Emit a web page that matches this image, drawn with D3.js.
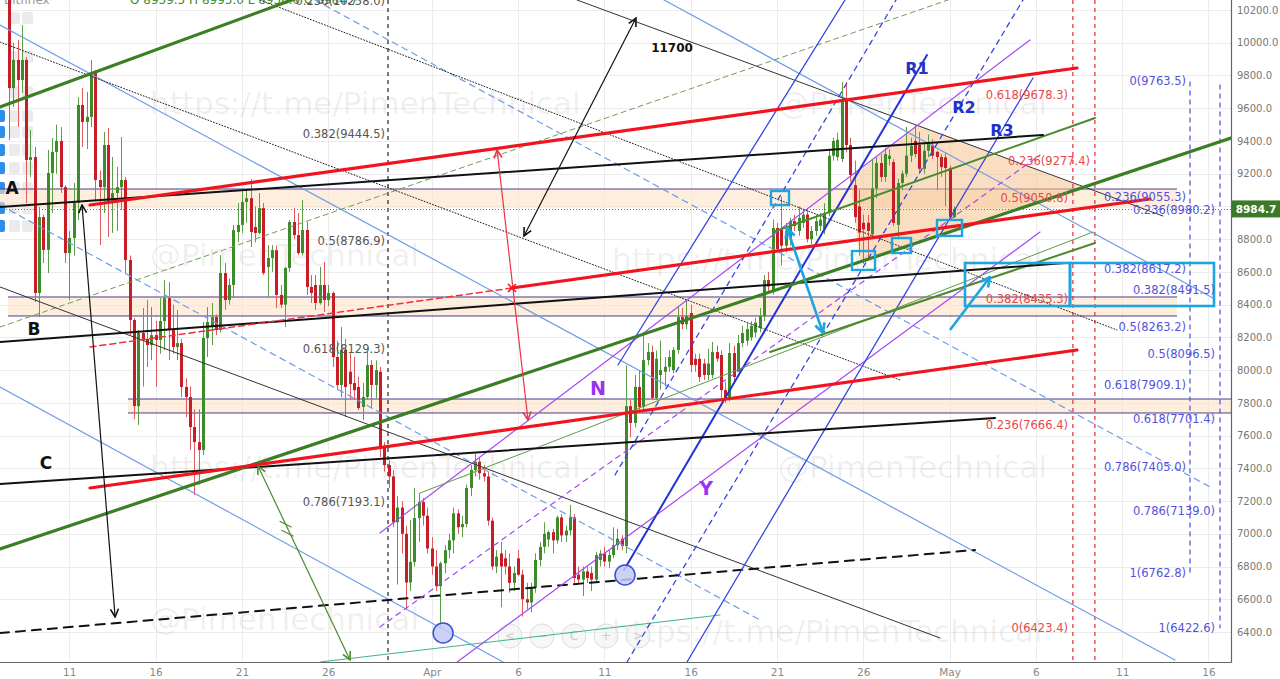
<!DOCTYPE html>
<html><head><meta charset="utf-8">
<script src="https://cdn.jsdelivr.net/npm/d3@7"></script>
<style>
body{margin:0;background:#fff;overflow:hidden}
svg{display:block}
text{font-family:"DejaVu Sans",sans-serif}
</style>
</head><body>
<svg id="c" width="1280" height="679"></svg>
<script>
// ---------------- DATA ----------------
const startTime = "2018-03-07T12:00:00Z";   // first 6h candle
const stepHours = 6;
// [open, high, low, close]
const ohlc = [
[10300,10400,9406,9723],[9723,10000,9607,9895],[9895,10017,9485,9772],[9772,10108,9693,9895],
[9895,9913,9020,9284],[9284,9467,9180,9302],[9302,9363,8416,8471],[8471,8996,8324,8935],
[8935,8950,8654,8734],[8734,9345,8593,9204],[9204,9418,8960,9333],[9333,9500,9200,9400],
[9400,9485,9082,9118],[9118,9130,8654,8715],[8715,8850,8428,8807],[8807,9143,8700,9021],
[9021,9668,8917,9620],[9620,9723,9363,9516],[9516,9700,9350,9547],[9547,9895,9485,9803],
[9815,9833,9039,9161],[9161,9220,8764,9118],[9118,9455,8960,9375],[9375,9479,8813,9027],
[9027,9302,8838,9082],[9082,9241,8850,9118],[9118,9424,8978,9161],[9161,9180,8593,8673],
[8673,8700,8214,8306],[8306,8318,7700,7780],[7780,8245,7665,8227],[8227,8379,7900,8190],
[8190,8428,8019,8153],[8153,8385,8061,8214],[8214,8300,7897,8184],[8184,8440,8100,8300],
[8300,8550,8123,8440],[8440,8538,8061,8245],[8245,8400,8100,8141],[8141,8367,8061,8165],
[8165,8190,7836,7897],[7897,7950,7713,7836],[7836,7900,7512,7652],[7652,7760,7237,7560],
[7560,7760,7300,7512],[7512,8294,7480,8196],[8196,8385,8080,8294],[8263,8410,8153,8324],
[8324,8340,8214,8245],[8245,8703,8230,8593],[8593,8654,8367,8428],[8428,8560,8400,8520],
[8520,8887,8440,8856],[8844,9021,8783,8887],[8887,9112,8838,9027],[9027,9100,8900,9050],
[9050,9167,8752,8844],[8874,9000,8780,8838],[8838,9082,8830,8990],[8990,9021,8581,8593],
[8630,8764,8447,8685],[8685,8764,8600,8733],[8733,8760,8379,8459],[8459,8520,8380,8400],
[8400,8630,8263,8624],[8624,8917,8600,8905],[8905,8990,8800,8825],[8825,8960,8703,8715],
[8715,9039,8700,8856],[8856,8905,8459,8508],[8508,8580,8410,8471],[8520,8581,8367,8410],
[8410,8630,8400,8520],[8520,8660,8355,8428],[8428,8520,8390,8471],[8471,8480,8019,8080],
[8080,8180,7878,7909],[7909,8263,7836,8123],[8123,8190,7713,7897],[7990,8104,7817,7915],
[7921,8080,7817,7878],[7897,7960,7756,7768],[7775,7921,7695,7836],[7836,8110,7820,8031],
[8031,8061,7768,7909],[7909,8060,7830,8000],[7990,8020,7469,7530],[7530,7560,7380,7420],
[7420,7450,7280,7350],[7350,7390,7040,7070],[7070,7230,6690,7160],[7160,7200,6880,7000],
[7000,7050,6534,6702],[6702,7084,6650,6828],[6828,7280,6800,7096],[7096,7250,6950,7194],
[7194,7220,7050,7110],[7110,7160,6880,6910],[6910,6980,6750,6800],[6800,6900,6650,6680],
[6680,6830,6423,6820],[6820,6930,6760,6900],[6900,7000,6850,6960],[6960,7160,6880,7125],
[7125,7150,7000,7040],[7040,7110,6980,7060],[7060,7300,7040,7280],[7280,7420,7230,7390],
[7390,7490,7350,7440],[7440,7470,7330,7370],[7370,7420,7320,7350],[7350,7380,7050,7080],
[7080,7100,6780,6800],[6800,6900,6760,6860],[6880,6950,6550,6800],[6850,6900,6750,6800],
[6800,6880,6640,6700],[6700,6800,6650,6760],[6850,6900,6740,6750],[6750,6780,6494,6600],
[6600,6700,6540,6580],[6580,6700,6520,6670],[6670,6880,6640,6840],[6840,6950,6800,6920],
[6920,7070,6880,7000],[6965,7020,6920,7010],[7010,7030,6880,6960],[6960,7110,6940,7100],
[7100,7120,6950,6990],[6990,7050,6950,7020],[7020,7176,6990,7100],[7100,7120,6700,6730],
[6750,6800,6700,6720],[6720,6800,6620,6770],[6770,6800,6700,6730],[6760,6800,6650,6720],
[6720,6890,6700,6870],[6840,6900,6800,6880],[6880,6920,6800,6830],[6830,6900,6790,6870],
[6870,7040,6850,6930],[6930,7030,6900,6970],[6970,6990,6900,6925],[6925,8030,6880,7780],
[7780,7817,7590,7677],[7677,7970,7650,7897],[7897,8000,7744,7775],[7775,8215,7750,8061],
[8061,8165,8030,8110],[8110,8150,7817,7830],[7830,8120,7817,8069],[7970,8180,7880,8000],
[7990,8080,7900,8020],[8020,8120,7990,8080],[8000,8140,7980,8123],[8123,8385,8100,8324],
[8324,8380,8250,8280],[8280,8430,8250,8330],[8349,8400,7988,8031],[8069,8100,7990,8031],
[8069,8100,7927,7958],[8040,8070,7940,7970],[7970,8130,7940,8040],[7970,8172,7950,8110],
[8110,8150,8050,8070],[8092,8120,7830,7878],[7878,7930,7800,7830],[7830,8165,7810,8104],
[8104,8150,7930,7958],[7990,8215,7990,8165],[8165,8270,8140,8226],[8180,8290,8150,8250],
[8200,8300,8180,8270],[8230,8320,8200,8290],[8257,8380,8230,8330],[8330,8580,8300,8550],
[8550,8600,8480,8510],[8477,8920,8460,8868],[8868,8899,8720,8740],[8860,9060,8640,8760],
[8760,8900,8720,8850],[8800,8930,8760,8910],[8910,8950,8850,8880],[8850,9000,8820,8930],
[8900,8980,8870,8950],[8950,8990,8780,8800],[8800,8880,8770,8850],[8850,8950,8820,8910],
[8880,8960,8850,8920],[8860,9020,8830,8960],[8960,9350,8940,9310],[9310,9420,9280,9400],
[9302,9450,9280,9407],[9290,9760,9270,9650],[9650,9760,9330,9375],[9375,9420,9150,9192],
[9130,9280,8900,8935],[9000,9100,8700,8840],[8900,8950,8650,8860],[8900,8950,8680,8850],
[8830,9290,8800,9110],[9110,9300,9050,9265],[9265,9320,9150,9180],[9180,9360,9150,9320],
[9290,9350,9250,9310],[9271,9290,8880,8899],[8887,9170,8800,9143],[9143,9220,9100,9200],
[9200,9485,9180,9310],[9310,9420,9270,9370],[9400,9497,9300,9320],[9375,9455,9200,9230],
[9230,9390,9200,9340],[9340,9440,9300,9390],[9375,9410,9290,9310],[9333,9340,9100,9302],
[9302,9320,9180,9240],[9300,9330,9000,9235],[9235,9250,8929,8935],[8935,9000,8929,8984.7]
];
const lastPrice = 8984.7;
const priceTicks = d3.range(6400, 10201, 200);
const dateTicks = ["2018-03-11","2018-03-16","2018-03-21","2018-03-26","2018-04-01","2018-04-06",
  "2018-04-11","2018-04-16","2018-04-21","2018-04-26","2018-05-01","2018-05-06","2018-05-11","2018-05-16"];

// Drawings: [kind, dayFromMar11, price, dayFromMar11, price]
const trendLines = [
 ["gDash",-4.015,8263.2,50.91,10261.1],
 ["bLight",-4.015,10108.4,64.061,6228.9],
 ["bLight",-4.015,7896.7,25.133,6216.6],
 ["bLight",34.455,10261.1,66.263,8440.5],
 ["bLightDash",-4.015,9008.7,40.017,6473.3],
 ["bLightDash",14.235,10261.1,66.205,7279.7],
 ["kDot",-4.015,10004.5,48.129,7939.5],
 ["kDot",11.049,10261.1,60.701,8245.0],
 ["kThin",-4.015,8507.7,50.446,6363.3],
 ["kThin",29.415,10261.1,63.366,8941.5],
 ["kDash",-4.015,6393.8,52.474,6900.9],
 ["teal",14.525,6216.6,37.70,6503.9],
 ["purple",17.996,7004.8,55.66,10016.7],
 ["purpleDash",17.996,6430.5,56.24,9314.1],
 ["purple",22.468,6216.6,56.24,8843.7],
 ["bDarkThin",31.79,8031.2,44.942,10261.1],
 ["bDark",32.138,6778.7,49.693,9925.1],
 ["bDarkThin",35.788,6216.6,55.834,9784.6],
 ["bDarkDash",31.616,7359.2,47.897,10261.1],
 ["bDarkDash",32.312,6216.6,55.255,10261.1],
 ["gThin",20.33,7249.2,59.311,8843.7],
 ["gMed",40.597,8110.6,59.427,8776.5],
 ["gMed",40.771,8843.7,59.427,9540.2],
 ["kMed",-4.015,8996.5,56.414,9436.3],
 ["kMed",-4.015,8171.7,57.688,8654.3],
 ["kMed",-4.015,7304.1,53.633,7707.3],
 ["gThick",-4.015,9607.4,13.366,10279.4],
 ["gThick",-4.015,6907.0,67.306,9418.0],
 ["rDash",1.199,8141.1,25.649,8501.6],
 ["rThick",1.199,9008.7,58.384,9845.7],
 ["rThick",25.649,8501.6,62.613,9045.3],
 ["rThick",1.199,7279.7,58.384,8122.8]
];
const arrows = [
 ["kArrow",0.736,9008.7,2.654,6491.6,"both"],
 ["kArrow",26.344,8819.3,32.833,10151.1,"both"],
 ["rArrow",24.786,9344.7,26.576,7695.1,"both"],
 ["gArrow",10.933,7414.1,16.263,6228.9,"both"],
 ["cArrow",41.582,8868.2,43.667,8226.6,"both"],
 ["cArrow",51.025,8245.0,53.343,8568.8,"end"]
];
// zones: [dayStart, dayEnd, priceTop, priceBottom]
const zones = [[-4.015,64.177,9106.4,8990],[-3.551,64.177,8446.6,8330.5],[3.401,67.306,7823.4,7737.9]];
const triangle = [[45.232,9173.6],[49.171,9497.4],[58.557,9124.7],[45.811,8660.4]];
// cyan boxes: [dayCenter, priceCenter, wPx, hPx]
const markBoxes = [[41.176,9051.4,18,14],[46.014,8669.6,23,19],[48.216,8761.2,19,15],[50.997,8868.2,25,16]];
const targetBoxes = [[51.894,57.978,8654.3,8391.6],[57.978,66.321,8654.3,8391.6]];
const circles = [[21.657,6393.8],[32.196,6748.2]];
const crossMark = [25.649,8501.6];
// vertical dashed lines: [kind, day, priceTop, priceBottom]
const vLines = [["k",18.465,null,null],["r",58.146,null,null],["r",59.42,null,null],["b",64.93,9763.5,6762.8],["b",66.67,9745,6422.6]];
// fib labels
const fibGray = [["0.236(10258.0)",10258.0],["0.382(9444.5)",9444.5],["0.5(8786.9)",8786.9],["0.618(8129.3)",8129.3],["0.786(7193.1)",7193.1]];
const fibRed = [["0.618(9678.3)",9678.3,57.86],["0.236(9277.4)",9277.4,59.14],["0.5(9050.8)",9050.8,57.86],["0.382(8435.3)",8435.3,57.86],["0.236(7666.4)",7666.4,57.86],["0(6423.4)",6423.4,57.86]];
const fibBlue1 = [["0(9763.5)",9763.5],["0.236(9055.3)",9055.3],["0.382(8617.2)",8617.2],["0.5(8263.2)",8263.2],["0.618(7909.1)",7909.1],["0.786(7405.0)",7405.0],["1(6762.8)",6762.8]];
const fibBlue2 = [["0.236(8980.2)",8980.2],["0.382(8491.5)",8491.5],["0.5(8096.5)",8096.5],["0.618(7701.4)",7701.4],["0.786(7139.0)",7139.0],["1(6422.6)",6422.6]];
const textLabels = [["A",-3.32,9112,"k"],["B",-2.045,8254,"k"],["C",-1.35,7432,"k"],["N",30.63,7891,"p"],["Y",36.89,7280,"p"],
 ["R1",49.11,9840,"b"],["R2",51.83,9604,"b"],["R3",54.04,9461,"b"],["11700",34.92,9968,"s"]];

// ---------------- SCALES ----------------
const W = 1231, H = 662;
const base = Date.UTC(2018,2,11);
const D = d => new Date(base + d*864e5);
const x = d3.scaleUtc().domain([D(-4.015), D(67.306)]).range([0, W]);
const y = d3.scaleLinear().domain([6216.6, 10261.1]).range([H, 0]);
const X = d => x(D(d));

const svg = d3.select("#c");
const defs = svg.append("defs");
defs.append("clipPath").attr("id","clip").append("rect").attr("width",W).attr("height",H);

const style = {
 gThick:{c:"#3b7f24",w:3.2}, gMed:{c:"#4b8a2f",w:2}, gThin:{c:"#5f9b47",w:1}, gDash:{c:"#6f9e55",w:1,d:"5,4"},
 teal:{c:"#3db38e",w:1}, rThick:{c:"#f0141e",w:3.2}, rDash:{c:"#f0303a",w:1.5,d:"6,4"},
 kMed:{c:"#111",w:2}, kThin:{c:"#333",w:1}, kDot:{c:"#222",w:1,d:"1,2"}, kDash:{c:"#111",w:2,d:"9,7"},
 bLight:{c:"#6d9ce8",w:1.2}, bLightDash:{c:"#6d9ce8",w:1.2,d:"6,5"},
 bDark:{c:"#2233d6",w:2}, bDarkThin:{c:"#3547e0",w:1.3}, bDarkDash:{c:"#3547e0",w:1.3,d:"5,5"},
 purple:{c:"#a448f5",w:1.2}, purpleDash:{c:"#a448f5",w:1.2,d:"5,5"},
 kArrow:{c:"#111",w:1.2}, rArrow:{c:"#f03040",w:1.2}, gArrow:{c:"#4b8a2f",w:1.2}, cArrow:{c:"#1ea5e0",w:2.6}
};
["kArrow","rArrow","gArrow","cArrow"].forEach(k=>{
  const s = style[k], big = k==="cArrow";
  defs.append("marker").attr("id","m_"+k).attr("viewBox","0 0 10 10").attr("refX",9).attr("refY",5)
    .attr("markerUnits","userSpaceOnUse").attr("markerWidth",big?12:10).attr("markerHeight",big?12:10)
    .attr("orient","auto-start-reverse")
    .append("path").attr("d","M1,1 L9,5 L1,9").attr("fill","none").attr("stroke",s.c).attr("stroke-width",big?2.2:1.6);
});

// ---------------- GRID ----------------
const grid = svg.append("g");
grid.selectAll("line.v").data(dateTicks).join("line")
  .attr("x1",d=>Math.round(x(new Date(d+"T00:00:00Z")))+0.5).attr("x2",d=>Math.round(x(new Date(d+"T00:00:00Z")))+0.5)
  .attr("y1",0).attr("y2",H).attr("stroke","#ececec");
grid.selectAll("line.h").data(priceTicks).join("line")
  .attr("y1",d=>Math.round(y(d))+0.5).attr("y2",d=>Math.round(y(d))+0.5)
  .attr("x1",0).attr("x2",W).attr("stroke","#ececec");

// ---------------- WATERMARKS ----------------
const wm = svg.append("g").attr("font-family","Liberation Sans, Arial, sans-serif").attr("font-size",31)
  .attr("fill","#000").attr("fill-opacity",0.07);
[["https://t.me/PimenTechnical",150,114],["@PimenTechnical",778,114],["@PimenTechnical",150,266],
 ["https://t.me/PimenTechnical",612,270],["https://t.me/PimenTechnical",150,478],["@PimenTechnical",778,478],
 ["@PimenTechnical",150,630],["https://t.me/PimenTechnical",612,642]]
 .forEach(w=>wm.append("text").attr("x",w[1]).attr("y",w[2]).text(w[0]));

// ---------------- UI BITS (under drawings) ----------------
const ui = svg.append("g");
[18,57,92,116,132,150,168,188,208,226].forEach((yy,i)=>{
  if (i>=3) ui.append("rect").attr("x",-3).attr("y",yy-6).attr("width",8).attr("height",12).attr("rx",2).attr("fill","#2f8fe8");
  ui.append("rect").attr("x",9).attr("y",yy-6).attr("width",11).attr("height",12).attr("rx",2).attr("fill","#e6e6e6").attr("fill-opacity",0.8);
  ui.append("rect").attr("x",22).attr("y",yy-6).attr("width",11).attr("height",12).attr("rx",2).attr("fill","#e6e6e6").attr("fill-opacity",0.8);
});
ui.append("text").attr("x",4).attr("y",4).attr("font-size",12).attr("fill","#999").text("Bitfinex");
ui.append("text").attr("x",130).attr("y",4).attr("font-size",12).attr("fill","#3d8b2a").text("O 8959.5  H 8995.0  L 8958.0  C 8984.7");
[510,542,574,606,638].forEach((cx,i)=>{
  ui.append("circle").attr("cx",cx).attr("cy",636).attr("r",12).attr("fill","#f2f2f2").attr("fill-opacity",0.6).attr("stroke","#ddd");
  ui.append("text").attr("x",cx).attr("y",636).attr("text-anchor","middle").attr("dominant-baseline","central")
    .attr("font-size",12).attr("fill","#ccc").text(["<","−","C","+",">"][i]);
});

const plot = svg.append("g").attr("clip-path","url(#clip)");

// zones
const zg = plot.append("g");
zones.forEach((z,k)=>{
  zg.append("rect").attr("x",X(z[0])).attr("width",X(z[1])-X(z[0]))
    .attr("y",y(z[2])).attr("height",y(z[3])-y(z[2])).attr("fill","#fbe3c8").attr("fill-opacity",0.6);
  zg.append("line").attr("x1",X(z[0])).attr("x2",X(z[1])).attr("y1",y(z[2])).attr("y2",y(z[2])).attr("stroke","#4a3c8c").attr("stroke-width",1);
  if (k>0) zg.append("line").attr("x1",X(z[0])).attr("x2",X(z[1])).attr("y1",y(z[3])).attr("y2",y(z[3])).attr("stroke","#4a3c8c").attr("stroke-width",1);
});
// triangle
plot.append("path").attr("d", d3.line().x(d=>X(d[0])).y(d=>y(d[1]))(triangle)+"Z")
  .attr("fill","#f6c38e").attr("fill-opacity",0.55);

// vertical dashed lines
vLines.forEach(v=>{
  const c = v[0]==="k"?"#333":v[0]==="r"?"#ee3344":"#5a5ae0";
  plot.append("line").attr("x1",X(v[1])).attr("x2",X(v[1]))
    .attr("y1",v[2]==null?0:y(v[2])).attr("y2",v[3]==null?H:y(v[3]))
    .attr("stroke",c).attr("stroke-width",1.3).attr("stroke-dasharray",v[0]==="b"?"5,4":"4,4");
});

// current price dotted line
plot.append("line").attr("x1",0).attr("x2",W).attr("y1",Math.round(y(lastPrice))+0.5).attr("y2",Math.round(y(lastPrice))+0.5)
  .attr("stroke","#777").attr("stroke-dasharray","1,2");

// ---------------- CANDLES ----------------
const t0 = Date.parse(startTime);
const candles = ohlc.map((r,i)=>({t:new Date(t0+i*stepHours*36e5),o:r[0],h:r[1],l:r[2],c:r[3]}));
const cg = plot.append("g");
cg.selectAll("line").data(candles).join("line")
  .attr("x1",d=>Math.round(x(d.t))+0.5).attr("x2",d=>Math.round(x(d.t))+0.5)
  .attr("y1",d=>y(Math.max(d.h,d.o,d.c))).attr("y2",d=>y(Math.min(d.l,d.o,d.c)))
  .attr("stroke",d=>d.c>=d.o?"#5c9e48":"#e05a60").attr("stroke-width",1);
cg.selectAll("rect").data(candles).join("rect")
  .attr("x",d=>Math.round(x(d.t))-1).attr("width",3)
  .attr("y",d=>y(Math.max(d.o,d.c))).attr("height",d=>Math.max(1,Math.abs(y(d.o)-y(d.c))))
  .attr("fill",d=>d.c>=d.o?"#3d8b2a":"#c81d27");

// ---------------- DRAWINGS ----------------
const lg = plot.append("g").attr("fill","none");
trendLines.forEach(l=>{
  const s = style[l[0]];
  lg.append("line").attr("x1",X(l[1])).attr("y1",y(l[2])).attr("x2",X(l[3])).attr("y2",y(l[4]))
    .attr("stroke",s.c).attr("stroke-width",s.w).attr("stroke-dasharray",s.d||null).attr("stroke-linecap","round");
});
arrows.forEach(a=>{
  const s = style[a[0]];
  const ln = lg.append("line").attr("x1",X(a[1])).attr("y1",y(a[2])).attr("x2",X(a[3])).attr("y2",y(a[4]))
    .attr("stroke",s.c).attr("stroke-width",s.w).attr("marker-end","url(#m_"+a[0]+")");
  if (a[5]==="both") ln.attr("marker-start","url(#m_"+a[0]+")");
});
{
  const a = arrows[3]; const mx = X(a[1]+(a[3]-a[1])*0.3), my = y(a[2]+(a[4]-a[2])*0.3);
  lg.append("path").attr("d",`M${mx-6},${my-3}L${mx+6},${my+3}M${mx-4},${my+6}L${mx+8},${my+12}`).attr("stroke","#4b8a2f").attr("stroke-width",1.2);
}
lg.append("path").attr("d",`M${X(crossMark[0])-4},${y(crossMark[1])-4}L${X(crossMark[0])+4},${y(crossMark[1])+4}M${X(crossMark[0])-4},${y(crossMark[1])+4}L${X(crossMark[0])+4},${y(crossMark[1])-4}`)
  .attr("stroke","#f0141e").attr("stroke-width",1.6);
markBoxes.forEach(b=>lg.append("rect").attr("x",X(b[0])-b[2]/2).attr("y",y(b[1])-b[3]/2).attr("width",b[2]).attr("height",b[3])
  .attr("stroke","#1ea5e0").attr("stroke-width",2.4));
targetBoxes.forEach(b=>lg.append("rect").attr("x",X(b[0])).attr("y",y(b[2])).attr("width",X(b[1])-X(b[0])).attr("height",y(b[3])-y(b[2]))
  .attr("stroke","#1ea5e0").attr("stroke-width",2.6));
circles.forEach(c=>lg.append("circle").attr("cx",X(c[0])).attr("cy",y(c[1])).attr("r",10)
  .attr("fill","#c3caf3").attr("fill-opacity",0.85).attr("stroke","#3a4fd8").attr("stroke-width",1.5));

// ---------------- LABELS ----------------
const fl = plot.append("g").attr("font-size",11.5).attr("text-anchor","end").attr("dominant-baseline","central");
fibGray.forEach(f=>fl.append("text").attr("x",X(18.29)).attr("y",y(f[1])).attr("fill","#555").text(f[0]));
fibRed.forEach(f=>fl.append("text").attr("x",X(f[2])).attr("y",y(f[1])).attr("fill","#e8474c").text(f[0]));
fibBlue1.forEach(f=>fl.append("text").attr("x",X(64.70)).attr("y",y(f[1])).attr("fill","#5252dc").text(f[0]));
fibBlue2.forEach(f=>fl.append("text").attr("x",X(66.38)).attr("y",y(f[1])).attr("fill","#5252dc").text(f[0]));

const tl = plot.append("g").attr("text-anchor","middle").attr("dominant-baseline","central").attr("font-weight","bold");
textLabels.forEach(t=>{
  const col = t[3]==="k"?"#111":t[3]==="p"?"#9b30f5":t[3]==="b"?"#2232c8":"#111";
  const fs = t[3]==="k"?17:t[3]==="p"?19:t[3]==="b"?16:12;
  tl.append("text").attr("x",X(t[1])).attr("y",y(t[2])).attr("fill",col).attr("font-size",fs)
    .attr("font-family",t[3]==="s"?"DejaVu Sans":"Liberation Sans, Arial, sans-serif").text(t[0]);
});

// ---------------- AXES ----------------
const xa = svg.append("g").attr("transform",`translate(0,${H})`)
  .call(d3.axisBottom(x).tickValues(dateTicks.map(d=>new Date(d+"T00:00:00Z"))).tickSize(0).tickPadding(7)
    .tickFormat(d=>d.getUTCDate()===1?d3.utcFormat("%b")(d):d.getUTCDate()));
xa.select(".domain").remove();
xa.selectAll("text").attr("fill","#888").attr("font-size",10.5).attr("font-family","Liberation Sans, Arial, sans-serif");
const ya = svg.append("g").attr("transform",`translate(${W},0)`)
  .call(d3.axisRight(y).tickValues(priceTicks).tickSize(0).tickPadding(6)
    .tickFormat(d=>Math.abs(y(d)-y(lastPrice))<11 ? "" : d3.format(".1f")(d)));
ya.select(".domain").remove();
ya.selectAll("text").attr("fill","#777").attr("font-size",10).attr("font-family","Liberation Sans, Arial, sans-serif");
svg.append("line").attr("x1",0).attr("x2",W+0.5).attr("y1",H+0.5).attr("y2",H+0.5).attr("stroke","#666").attr("stroke-width",1.2);
svg.append("line").attr("x1",W+0.5).attr("x2",W+0.5).attr("y1",0).attr("y2",H+0.5).attr("stroke","#666").attr("stroke-width",1.2);
svg.append("rect").attr("x",W+1).attr("y",y(lastPrice)-8.5).attr("width",48).attr("height",17).attr("fill","#3c7a2a");
svg.append("text").attr("x",W+25).attr("y",y(lastPrice)).attr("text-anchor","middle").attr("dominant-baseline","central").attr("fill","#fff")
  .attr("font-size",10.5).attr("font-weight","bold").attr("font-family","Liberation Sans, Arial, sans-serif").text(d3.format(".1f")(lastPrice));
</script>
</body></html>
